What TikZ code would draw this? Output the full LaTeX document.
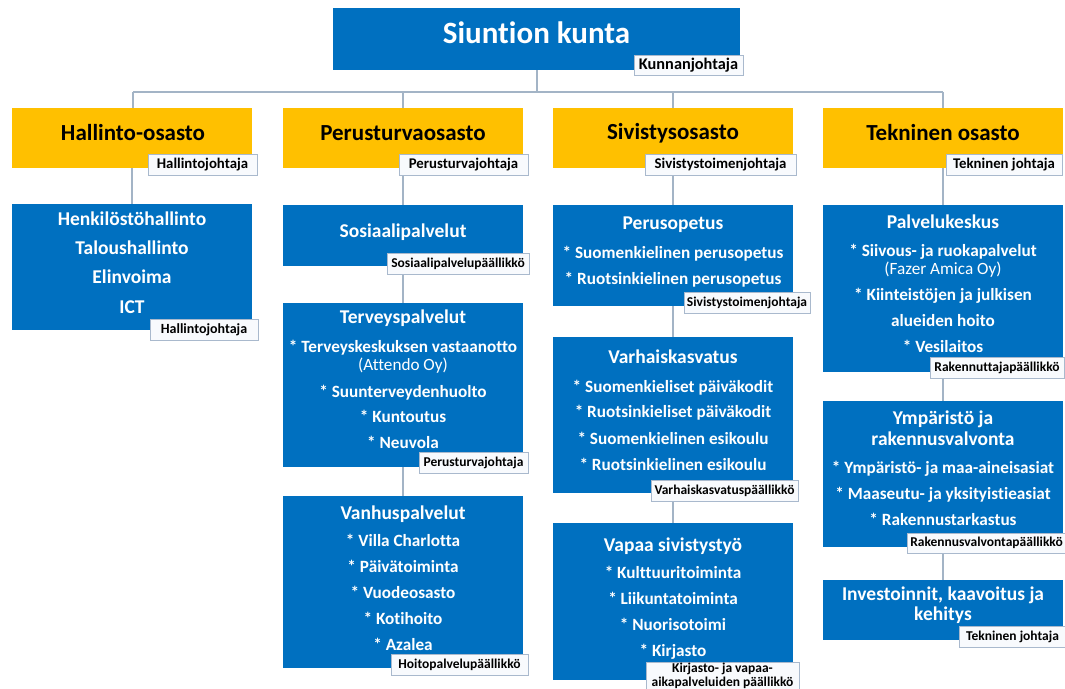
\documentclass[tikz,border=0pt]{standalone}
\usepackage{fontspec}
\setmainfont{Carlito}[Ligatures=CommonOff]
\begin{document}
\begin{tikzpicture}[x=1pt,y=-1pt,
  every node/.style={inner sep=0pt,outer sep=0pt},
  conn/.style={draw=lineC,line width=1.1pt},
  bluebox/.style={fill=blueC,minimum width=240pt,anchor=north west},
  bluetext/.style={text=white,font=\bfseries\fontsize{17.2}{18}\selectfont,align=center},
  yellowbox/.style={fill=yellowC,minimum width=240pt,minimum height=60pt,anchor=north west},
  yellowtext/.style={text=black,font=\bfseries\fontsize{23}{26}\selectfont},
  roletag/.style={fill=tagF,draw=tagD,line width=0.6pt,text=black,font=\bfseries\fontsize{13.5}{14}\selectfont,align=center,anchor=south east,minimum height=21pt},
  toptag/.style={roletag,font=\bfseries\fontsize{14.8}{15}\selectfont}
]
\definecolor{blueC}{HTML}{0070C0}
\definecolor{yellowC}{HTML}{FFC000}
\definecolor{lineC}{HTML}{A3B4C6}
\definecolor{tagF}{HTML}{F8FAFD}
\definecolor{tagD}{HTML}{A9B9CD}
\newcommand{\ttl}[1]{{\fontsize{19.5}{19.5}\selectfont #1}}
\newcommand{\nb}[1]{{\mdseries #1}}
\useasboundingbox (0,0) rectangle (1065,688);
\fill[white] (0,0) rectangle (1065,688);

% ---------- boxes ----------
\node[fill=blueC,minimum width=407pt,minimum height=62pt,anchor=north west] (top) at (333,8) {};
\node[yellowbox] (d1) at (12,108) {};
\node[yellowbox] (d2) at (283,108) {};
\node[yellowbox] (d3) at (553,108) {};
\node[yellowbox] (d4) at (823,108) {};
\node[bluebox,minimum height=126pt] (h1) at (12,204) {};
\node[bluebox,minimum height=61pt] (p1) at (283,205) {};
\node[bluebox,minimum height=164pt] (p2) at (283,303) {};
\node[bluebox,minimum height=172pt] (p3) at (283,496) {};
\node[bluebox,minimum height=101pt] (s1) at (553,205) {};
\node[bluebox,minimum height=156pt] (s2) at (553,337) {};
\node[bluebox,minimum height=157pt] (s3) at (553,523) {};
\node[bluebox,minimum height=167pt] (t1) at (823,205) {};
\node[bluebox,minimum height=146pt] (t2) at (823,401) {};
\node[bluebox,minimum height=60pt] (t3) at (823,580) {};

% ---------- connectors ----------
\coordinate (bus) at (537,92);
\coordinate (busL) at (133,92);
\coordinate (busR) at (943,92);
\draw[conn] (top.south -| bus) -- (bus);
\draw[conn] (busL) -- (busR);
\draw[conn] (busL) -- (d1.north -| busL);
\draw[conn] (d2.north |- bus) -- (d2.north);
\draw[conn] (d3.north |- bus) -- (d3.north);
\draw[conn] (d4.north |- bus) -- (d4.north);
\draw[conn] (d1.south) -- (h1.north);
\draw[conn] (d2.south) -- (p1.north);
\draw[conn] (p1.south) -- (p2.north);
\draw[conn] (p2.south) -- (p3.north);
\draw[conn] (d3.south) -- (s1.north);
\draw[conn] (s1.south) -- (s2.north);
\draw[conn] (s2.south) -- (s3.north);
\draw[conn] (d4.south) -- (t1.north);
\draw[conn] (t1.south) -- (t2.north);
\draw[conn] (t2.south) -- (t3.north);

% ---------- texts ----------
\node[text=white,font=\bfseries\fontsize{31}{31}\selectfont] (topt) at (536.5,33) {Siuntion kunta};
\node[yellowtext] (d1t) at (133,133) {Hallinto-osasto};
\node[yellowtext] (d2t) at (403,133) {Perusturvaosasto};
\node[yellowtext] (d3t) at (673,133) {Sivistysosasto};
\node[yellowtext] (d4t) at (943,133) {Tekninen osasto};

\node[bluetext,font=\bfseries\fontsize{19.5}{22}\selectfont] (h1t) at (132,262.5) {Henkilöstöhallinto\\[7.3pt]Taloushallinto\\[7.3pt]Elinvoima\\[7.3pt]ICT};

\node[bluetext] (p1t) at (403,232.5) {\ttl{Sosiaalipalvelut}};
\node[bluetext] (p2t) at (403,379.5) {\ttl{Terveyspalvelut}\\[11pt]* Terveyskeskuksen vastaanotto\\\nb{(Attendo Oy)}\\[8.5pt]* Suunterveydenhuolto\\[7.5pt]* Kuntoutus\\[8pt]* Neuvola};
\node[bluetext] (p3t) at (403,578) {\ttl{Vanhuspalvelut}\\[9pt]* Villa Charlotta\\[8pt]* Päivätoiminta\\[8pt]* Vuodeosasto\\[8pt]* Kotihoito\\[8pt]* Azalea};

\node[bluetext] (s1t) at (673,252.5) {\ttl{Perusopetus}\\[11pt]* Suomenkielinen perusopetus\\[8pt]* Ruotsinkielinen perusopetus};
\node[bluetext] (s2t) at (673,410) {\ttl{Varhaiskasvatus}\\[11pt]* Suomenkieliset päiväkodit\\[7.5pt]* Ruotsinkieliset päiväkodit\\[8.5pt]* Suomenkielinen esikoulu\\[8.5pt]* Ruotsinkielinen esikoulu};
\node[bluetext] (s3t) at (673,598.5) {\ttl{Vapaa sivistystyö}\\[9pt]* Kulttuuritoiminta\\[8pt]* Liikuntatoiminta\\[8.5pt]* Nuorisotoimi\\[8pt]* Kirjasto};

\node[bluetext] (t1t) at (943,284) {\ttl{Palvelukeskus}\\[10pt]* Siivous- ja ruokapalvelut\\\nb{(Fazer Amica Oy)}\\[8pt]* Kiinteistöjen ja julkisen\\[8pt]alueiden hoito\\[8pt]* Vesilaitos};
\node[bluetext] (t2t) at (943,468) {\ttl{Ympäristö ja}\\[3pt]\ttl{rakennusvalvonta}\\[10pt]* Ympäristö- ja maa-aineisasiat\\[8pt]* Maaseutu- ja yksityistieasiat\\[8pt]* Rakennustarkastus};
\node[bluetext] (t3t) at (943,605) {\ttl{Investoinnit, kaavoitus ja}\\[2pt]\ttl{kehitys}};

% ---------- role tags ----------
\node[roletag,font=\bfseries\fontsize{16.3}{17}\selectfont,minimum width=109pt,minimum height=20pt] (r0) at (743,75) {Kunnanjohtaja};
\node[toptag,minimum width=109pt] (r1) at (257,175) {Hallintojohtaja};
\node[toptag,minimum width=129pt] (r2) at (528,175) {Perusturvajohtaja};
\node[toptag,minimum width=151pt] (r3) at (796,175) {Sivistystoimenjohtaja};
\node[toptag,minimum width=116pt] (r4) at (1062,175) {Tekninen johtaja};
\node[roletag,font=\bfseries\fontsize{14}{15}\selectfont,minimum width=108pt] (rh1) at (258,340) {Hallintojohtaja};
\node[roletag,minimum width=142pt] (rp1) at (529,274) {Sosiaalipalvelupäällikkö};
\node[roletag,minimum width=109pt] (rp2) at (528,473) {Perusturvajohtaja};
\node[roletag,minimum width=137pt] (rp3) at (528,675) {Hoitopalvelupäällikkö};
\node[roletag,minimum width=126pt] (rs1) at (810,313) {Sivistystoimenjohtaja};
\node[roletag,minimum width=147pt] (rs2) at (798,501) {Varhaiskasvatuspäällikkö};
\node[roletag,font=\bfseries\fontsize{13.5}{13.5}\selectfont,minimum width=153pt,minimum height=28pt] (rs3) at (799,690) {Kirjasto- ja vapaa-\\aikapalveluiden päällikkö};
\node[roletag,minimum width=134pt] (rt1) at (1064,378) {Rakennuttajapäällikkö};
\node[roletag,minimum width=158pt,minimum height=20pt] (rt2) at (1065.5,553) {Rakennusvalvontapäällikkö};
\node[roletag,minimum width=106pt] (rt3) at (1065.5,647) {Tekninen johtaja};
\end{tikzpicture}
\end{document}
